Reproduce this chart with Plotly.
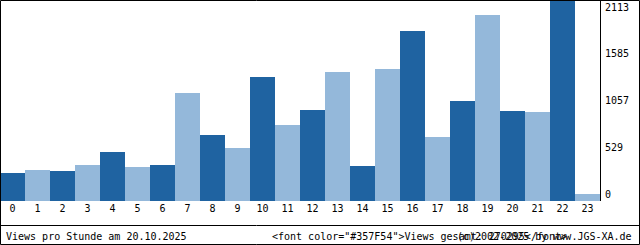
import plotly.graph_objects as go

hours = [str(h) for h in range(24)]
views = [294, 326, 315, 378, 515, 357, 378, 1135, 694, 557, 1303, 799,
         957, 1356, 368, 1387, 1787, 673, 1051, 1955, 946, 935, 2113, 74]
y_ticks = [0, 529, 1057, 1585, 2113]
y_max = 2113
footer_left = "Views pro Stunde am 20.10.2025"
footer_mid = '&lt;font color="#357F54"&gt;Views gesamt: 270295&lt;/font&gt;'
footer_right = "(c)2002-2025 by www.JGS-XA.de"

DARK = "#1f63a1"
LIGHT = "#94b8da"
FONT = "DejaVu Sans Mono"

colors = [DARK if i % 2 == 0 else LIGHT for i in range(len(views))]

fig = go.Figure()
fig.add_trace(go.Bar(x=list(range(24)), y=views, marker=dict(color=colors, line=dict(width=0)),
                     hoverinfo="skip"))
# invisible trace on the label axis
fig.add_trace(go.Scatter(x=[0], y=[0], yaxis="y2", mode="markers",
                         marker=dict(opacity=0), hoverinfo="skip", showlegend=False))

W, H = 640, 245
plot_w, plot_h = 600, 201
lo = -7 * y_max / 187
hi = y_max + 7 * y_max / 187

fig.update_layout(
    width=W, height=H,
    margin=dict(l=0, r=W - plot_w, t=0, b=H - plot_h, pad=0),
    paper_bgcolor="white", plot_bgcolor="white",
    bargap=0, showlegend=False,
    font=dict(family=FONT, size=10, color="black"),
    xaxis=dict(range=[-0.5, 23.5], tickvals=list(range(24)), ticktext=hours,
               showgrid=False, zeroline=False, showline=False, ticks="",
               tickfont=dict(family=FONT, size=10), fixedrange=True),
    yaxis=dict(range=[0, y_max], side="right", showgrid=False, zeroline=False,
               showline=True, linecolor="black", linewidth=1,
               showticklabels=False, ticks="", fixedrange=True),
    yaxis2=dict(range=[lo, hi], overlaying="y", side="right", showgrid=False,
                zeroline=False, showline=False, tickvals=y_ticks,
                ticktext=[str(v) for v in y_ticks], ticks="",
                ticklabelstandoff=4, tickfont=dict(family=FONT, size=10),
                fixedrange=True),
)

def px_x(p):
    return p / plot_w

def px_y(p):
    return (plot_h - p) / plot_h

line = dict(color="black", width=1)
shapes = [
    # outer frame
    dict(type="rect", xref="paper", yref="paper",
         x0=px_x(0.5), x1=px_x(639.5), y0=px_y(244.5), y1=px_y(0.5), line=line),
    # footer separator
    dict(type="line", xref="paper", yref="paper",
         x0=px_x(0), x1=px_x(640), y0=px_y(225.5), y1=px_y(225.5), line=line),
]
fig.update_layout(shapes=shapes)

ann_y = px_y(236.5)
fig.add_annotation(text=footer_left, xref="paper", yref="paper", x=px_x(4), y=ann_y,
                   xanchor="left", yanchor="middle", showarrow=False,
                   font=dict(family=FONT, size=10, color="black"))
fig.add_annotation(text=footer_mid, xref="paper", yref="paper", x=px_x(270), y=ann_y,
                   xanchor="left", yanchor="middle", showarrow=False,
                   font=dict(family=FONT, size=10, color="black"))
fig.add_annotation(text=footer_right, xref="paper", yref="paper", x=px_x(634), y=ann_y,
                   xanchor="right", yanchor="middle", showarrow=False,
                   font=dict(family=FONT, size=10, color="black"))

fig.write_html("out.html", config={"displayModeBar": False})
